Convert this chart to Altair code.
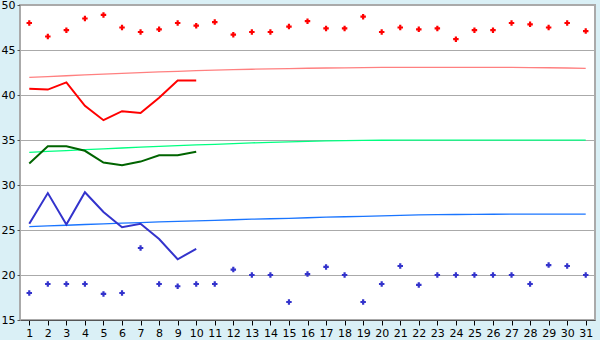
import altair as alt
import pandas as pd

days = list(range(1, 32))
high_pts = [48, 46.5, 47.2, 48.5, 48.9, 47.5, 47, 47.3, 48, 47.7, 48.1, 46.7, 47, 47, 47.6, 48.2,
            47.4, 47.4, 48.7, 47, 47.5, 47.3, 47.4, 46.2, 47.2, 47.2, 48, 47.85, 47.5, 48, 47.1]
low_pts = [18, 19, 19, 19, 17.9, 18, 23, 19, 18.75, 19, 19, 20.6, 20, 20, 17, 20.1,
           20.9, 20, 17, 19, 21, 18.9, 20, 20, 20, 20, 20, 19, 21.1, 21, 20]
line_days = list(range(1, 11))
red_line = [40.7, 40.6, 41.4, 38.8, 37.2, 38.2, 38.0, 39.7, 41.6, 41.6]
green_line = [32.4, 34.3, 34.3, 33.8, 32.5, 32.2, 32.6, 33.3, 33.3, 33.7]
blue_line = [25.7, 29.1, 25.6, 29.2, 27.0, 25.3, 25.7, 24.0, 21.75, 22.9]
pink_norm = [41.96, 42.05, 42.14, 42.23, 42.32, 42.4, 42.48, 42.56, 42.63, 42.7, 42.77, 42.82,
             42.86, 42.9, 42.94, 42.97, 43.0, 43.02, 43.04, 43.06, 43.07, 43.07, 43.07, 43.07,
             43.07, 43.07, 43.06, 43.05, 43.03, 43.0, 42.96]
green_norm = [33.63, 33.73, 33.83, 33.93, 34.02, 34.11, 34.2, 34.29, 34.37, 34.45, 34.52, 34.6,
              34.68, 34.74, 34.8, 34.85, 34.9, 34.94, 34.96, 34.97, 34.98, 34.98, 34.98, 34.98,
              34.98, 34.98, 34.98, 34.98, 34.98, 34.98, 34.98]
blue_norm = [25.37, 25.45, 25.53, 25.61, 25.69, 25.76, 25.83, 25.9, 25.96, 26.02, 26.08, 26.14,
             26.2, 26.25, 26.3, 26.36, 26.42, 26.47, 26.52, 26.57, 26.62, 26.67, 26.7, 26.72,
             26.74, 26.75, 26.76, 26.76, 26.76, 26.76, 26.76]

full = pd.DataFrame({"day": days, "hi": high_pts, "lo": low_pts,
                     "pn": pink_norm, "gn": green_norm, "bn": blue_norm})
part = pd.DataFrame({"day": line_days, "r": red_line, "g": green_line, "b": blue_line})

xs = alt.Scale(domain=[0.5, 31.5], nice=False, zero=False)
ys = alt.Scale(domain=[15, 50], nice=False, zero=False)

xax = alt.Axis(values=days, title=None, grid=False, tickSize=5, tickColor="#000000",
               domainColor="#555555", labelFont="DejaVu Sans", labelFontSize=11,
               labelColor="#000000", labelPadding=2, labelAngle=0)
yax = alt.Axis(values=[15, 20, 25, 30, 35, 40, 45, 50], title=None, grid=True,
               gridColor="#aaaaaa", tickSize=3, tickColor="#555555", domainColor="#aaaaaa",
               labelFont="DejaVu Sans", labelFontSize=11, labelColor="#000000", labelPadding=2)


def ln(df, field, color, width):
    return alt.Chart(df).mark_line(color=color, strokeWidth=width).encode(
        x=alt.X("day:Q", scale=xs, axis=xax),
        y=alt.Y(field + ":Q", scale=ys, axis=yax),
    )


def pts(field, color):
    return alt.Chart(full).mark_point(shape="cross", filled=True, size=30, color=color,
                                      opacity=1).encode(
        x=alt.X("day:Q", scale=xs, axis=xax),
        y=alt.Y(field + ":Q", scale=ys, axis=yax),
    )


chart = alt.layer(
    ln(full, "pn", "#ff8080", 1.3),
    ln(full, "gn", "#00ff80", 1.3),
    ln(full, "bn", "#1a75ff", 1.3),
    ln(part, "r", "#ff0000", 2),
    ln(part, "g", "#006400", 2),
    ln(part, "b", "#3333cc", 2),
    pts("hi", "#ff0000"),
    pts("lo", "#3333cc"),
).properties(
    width=575, height=315,
    autosize=alt.AutoSizeParams(type="none"),
    padding={"left": 20, "top": 5, "right": 5, "bottom": 20},
    background="#daf0f6",
).configure_view(stroke="#aaaaaa", strokeWidth=2, fill="#ffffff")

chart.save("out.html", embed_options={"renderer": "svg", "actions": False})
